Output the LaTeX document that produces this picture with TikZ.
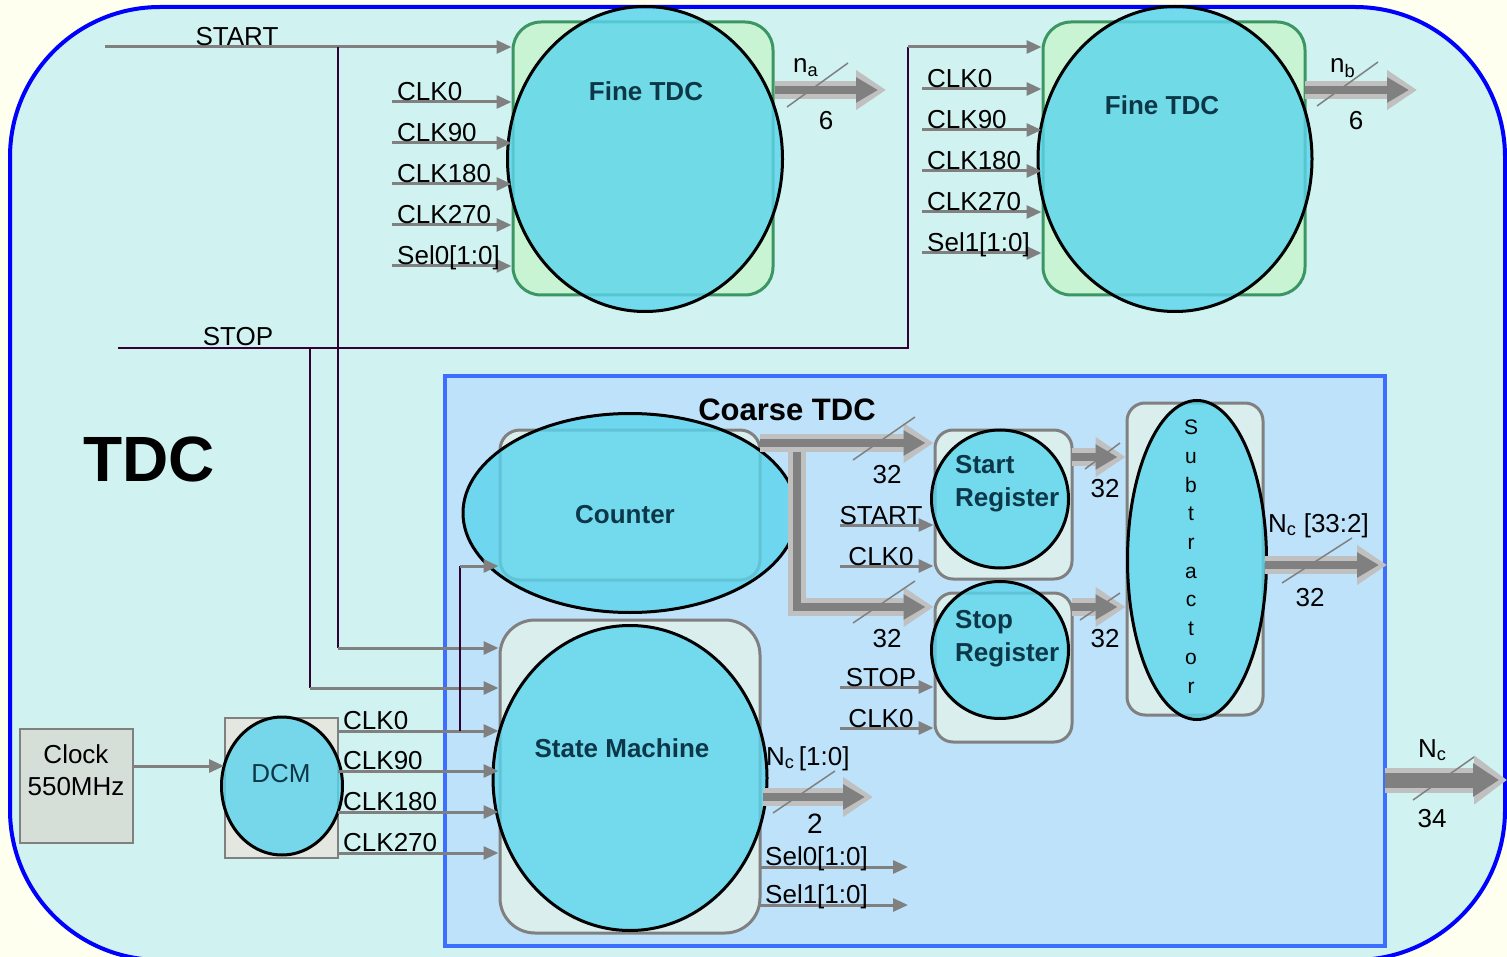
\documentclass[tikz,border=0pt]{standalone}
\usepackage{fontspec}
\setmainfont{Liberation Sans}
\usetikzlibrary{shapes.geometric,arrows.meta,calc}

\definecolor{pagebg}{RGB}{255,255,240}
\definecolor{tdcfill}{RGB}{208,242,240}
\definecolor{tdcline}{RGB}{0,0,255}
\definecolor{coarsefill}{RGB}{190,226,250}
\definecolor{coarseline}{RGB}{60,110,255}
\definecolor{cellfill}{RGB}{90,212,236}
\definecolor{boxfill}{RGB}{218,238,238}
\definecolor{finefill}{RGB}{200,244,212}
\definecolor{fineline}{RGB}{60,150,100}
\definecolor{clkfill}{RGB}{214,222,216}
\definecolor{dcmfill}{RGB}{228,230,224}
\definecolor{tealtxt}{RGB}{12,55,72}
\definecolor{wire}{RGB}{50,0,50}
\definecolor{sig}{RGB}{128,128,128}
\definecolor{busout}{RGB}{192,192,192}

\tikzset{
  lbl/.style={font=\fontsize{26}{32}\selectfont, inner sep=0pt},
  blk/.style={font=\fontsize{26}{33}\selectfont\bfseries, text=tealtxt, inner sep=0pt, align=left},
  cell/.style={ellipse, draw=black, line width=3pt, fill=cellfill, fill opacity=0.8, inner sep=0pt},
  gbox/.style={rectangle, rounded corners=#1, draw=sig, line width=3pt, fill=boxfill, inner sep=0pt},
  gbox/.default=18pt,
  finebox/.style={rectangle, rounded corners=28pt, draw=fineline, line width=3pt, fill=finefill, inner sep=0pt},
  sigarrow/.style={draw=sig, line width=3pt, -{Triangle[length=15pt,width=13pt]}},
  wireline/.style={draw=wire, line width=2.5pt},
  busbg/.style={draw=busout, line width=18pt, -{Triangle[length=30pt,width=38pt]}},
  busfg/.style={draw=sig, line width=8pt, -{Triangle[length=22pt,width=24pt]}, shorten >=8pt},
  busbgw/.style={draw=busout, line width=25pt, -{Triangle[length=33pt,width=47pt]}},
  busfgw/.style={draw=sig, line width=15pt, -{Triangle[length=26pt,width=32pt]}, shorten >=8pt},
  slash/.style={draw=sig, line width=1.5pt},
}

\begin{document}
\begin{tikzpicture}[x=1pt, y=-1pt]
\useasboundingbox (0,0) rectangle (1507,957);
\fill[pagebg] (0,0) rectangle (1507,957);
\begin{scope}
  \clip (0,0) rectangle (1507,957);
  \draw[draw=tdcline, line width=4pt, fill=tdcfill, rounded corners=150pt] (10,7) rectangle (1505,960);
\end{scope}
\node[font=\fontsize{64}{70}\selectfont\bfseries, anchor=base, inner sep=0pt] (tdc) at (149,481) {TDC};

% coarse TDC
\node[rectangle, draw=coarseline, line width=4pt, fill=coarsefill, minimum width=940pt, minimum height=570pt, inner sep=0pt] (coarse) at (915,661) {};
\node[font=\fontsize{31}{36}\selectfont\bfseries, anchor=base, inner sep=0pt] (coarseTxt) at (787,420) {Coarse TDC};

% fine TDCs
\node[finebox, minimum width=260pt, minimum height=273pt] (faBox) at (643,158.5) {};
\node[cell, minimum width=275pt, minimum height=305pt] (faCell) at (645,159) {};
\node[blk, anchor=base] (faTxt) at (646,101) {Fine TDC};
\node[finebox, minimum width=262pt, minimum height=273pt] (fbBox) at (1174,158.5) {};
\node[cell, minimum width=274pt, minimum height=305pt] (fbCell) at (1175,159) {};
\node[blk, anchor=base] (fbTxt) at (1162,115) {Fine TDC};

% clock and DCM
\node[rectangle, draw=sig, line width=2pt, fill=clkfill, minimum width=113pt, minimum height=114pt, inner sep=0pt] (clkBox) at (76.5,786) {};
\node[lbl, align=center] (clkTxt) at (76,770.5) {Clock\\550MHz};
\node[rectangle, draw=sig, line width=2pt, fill=dcmfill, minimum width=113pt, minimum height=140pt, inner sep=0pt] (dcmBox) at (281.5,788) {};
\node[cell, minimum width=121pt, minimum height=138pt] (dcmCell) at (282,786) {};
\node[lbl, text=tealtxt, anchor=base] (dcmTxt) at (281,782) {DCM};

% counter and state machine
\node[gbox=20pt, minimum width=260pt, minimum height=150pt] (ctBox) at (630,505) {};
\node[cell, minimum width=334pt, minimum height=199pt] (ctCell) at (630,513) {};
\node[blk, anchor=base] (ctTxt) at (625,523) {Counter};
\node[gbox=35pt, minimum width=260pt, minimum height=313pt] (smBox) at (630,776.5) {};
\node[cell, minimum width=274pt, minimum height=305pt] (smCell) at (630,778) {};
\node[blk, anchor=base] (smTxt) at (622,757) {State Machine};

% registers and subtractor
\node[gbox, minimum width=137pt, minimum height=149pt] (srBox) at (1003.5,504.5) {};
\node[cell, minimum width=137pt, minimum height=138pt] (srCell) at (1000,499) {};
\node[blk, anchor=north west] (srTxt) at (955,455) {Start\\Register};
\node[gbox, minimum width=137pt, minimum height=149pt] (spBox) at (1003.5,667.5) {};
\node[cell, minimum width=137pt, minimum height=137pt] (spCell) at (1000,650) {};
\node[blk, anchor=north west] (spTxt) at (955,610) {Stop\\Register};
\node[gbox, minimum width=136pt, minimum height=312pt] (suBox) at (1195,559) {};
\node[cell, minimum width=139pt, minimum height=319pt] (suCell) at (1197,560) {};
\foreach \ch [count=\i] in {S,u,b,t,r,a,c,t,o,r}
  \node[font=\fontsize{21}{24}\selectfont, anchor=base, inner sep=0pt] (su\i) at (1191,406+28.7*\i) {\ch};

% START and STOP
\coordinate (startin) at (105,47);
\coordinate (jstart) at (338,47);
\coordinate (jstartD) at (338,648);
\draw[sigarrow] (startin) -- (startin -| faBox.west);
\node[lbl, anchor=base] (startTxt) at (237,46) {START};
\draw[wireline] (jstart) -- (jstartD);
\draw[sigarrow] (jstartD) -- (jstartD -| smBox.west);

\coordinate (stopin) at (118,348);
\coordinate (jstop) at (310,348);
\coordinate (jstopD) at (310,688);
\coordinate (jstopR) at (908,348);
\coordinate (jstopT) at (908,47);
\draw[wireline] (stopin) -- (jstopR) -- (jstopT);
\draw[sigarrow] (jstopT) -- (jstopT -| fbBox.west);
\node[lbl, anchor=base] (stopTxt) at (238,346) {STOP};
\draw[wireline] (jstop) -- (jstopD);
\draw[sigarrow] (jstopD) -- (jstopD -| smBox.west);

% fine TDC inputs
\foreach \s [count=\i] in {CLK0,CLK90,CLK180,CLK270,Sel0[1:0]} {
  \coordinate (fain\i) at (392,61+41*\i);
  \draw[sigarrow] (fain\i) -- (fain\i -| faBox.west);
  \node[lbl, anchor=base west] (faLbl\i) at ($(fain\i)+(5,-1)$) {\s};
}
\foreach \s [count=\i] in {CLK0,CLK90,CLK180,CLK270,Sel1[1:0]} {
  \coordinate (fbin\i) at (922,48+41*\i);
  \draw[sigarrow] (fbin\i) -- (fbin\i -| fbBox.west);
  \node[lbl, anchor=base west] (fbLbl\i) at ($(fbin\i)+(5,-1)$) {\s};
}

% clock tree
\coordinate (clkout) at (133,766);
\draw[sigarrow] (clkout) -- (clkout -| dcmBox.west);
\foreach \s/\y [count=\i] in {CLK0/731,CLK90/771,CLK180/812,CLK270/853} {
  \coordinate (dcm\i) at (338,\y);
  \draw[sigarrow] (dcm\i) -- (dcm\i -| smBox.west);
  \node[lbl, anchor=base west] (dcmLbl\i) at ($(dcm\i)+(5,-2)$) {\s};
}
\coordinate (jclk) at (460,731);
\coordinate (jclkU) at (460,566);
\draw[wireline] (jclk) -- (jclkU);
\draw[sigarrow] (jclkU) -- (jclkU -| ctBox.west);

% register inputs
\foreach \s/\y [count=\i] in {START/525,CLK0/566} {
  \coordinate (srin\i) at (840,\y);
  \draw[sigarrow] (srin\i) -- (srin\i -| srBox.west);
  \node[lbl, anchor=base] (srLbl\i) at (881,\y-1) {\s};
}
\foreach \s/\y [count=\i] in {STOP/687,CLK0/728} {
  \coordinate (spin\i) at (840,\y);
  \draw[sigarrow] (spin\i) -- (spin\i -| spBox.west);
  \node[lbl, anchor=base] (spLbl\i) at (881,\y-1) {\s};
}

% state machine outputs
\coordinate (smout) at (763,797);
\coordinate (smend) at (873,797);
\draw[busbg] (smout) -- (smend);
\draw[busfg] (smout) -- (smend);
\draw[slash] (773,813) -- (835,771);
\node[lbl, anchor=base west] (ncLow) at (766,765) {N\textsubscript{c}\,[1:0]};
\node[font=\fontsize{28}{32}\selectfont, anchor=base, inner sep=0pt] (ncLowW) at (815,833) {2};
\foreach \s/\y [count=\i] in {Sel0[1:0]/867,Sel1[1:0]/905} {
  \coordinate (selout\i) at (760,\y);
  \coordinate (selend\i) at (908,\y);
  \draw[sigarrow] (selout\i) -- (selend\i);
  \node[lbl, anchor=base west] (selLbl\i) at ($(selout\i)+(5,-2)$) {\s};
}

% fine TDC outputs
\coordinate (faout) at (775,90);
\coordinate (faend) at (886,90);
\draw[busbg] (faout) -- (faend);
\draw[busfg] (faout) -- (faend);
\draw[slash] (787,107) -- (848,63);
\node[lbl, anchor=base west] (naTxt) at (793,73) {n\textsubscript{a}};
\node[lbl, anchor=base] (naW) at (826,130) {6};
\coordinate (fbout) at (1305,90);
\coordinate (fbend) at (1417,90);
\draw[busbg] (fbout) -- (fbend);
\draw[busfg] (fbout) -- (fbend);
\draw[slash] (1317,106) -- (1378,62);
\node[lbl, anchor=base west] (nbTxt) at (1330,73) {n\textsubscript{b}};
\node[lbl, anchor=base] (nbW) at (1356,130) {6};

% counter bus
\coordinate (ctout) at (760,443);
\coordinate (busj) at (797,443);
\coordinate (busb) at (797,607);
\draw[busbg] (busj) -- (busb) -- (busb -| spBox.west);
\draw[busfg] (busj) -- (busb) -- (busb -| spBox.west);
\draw[busbg] (ctout) -- (ctout -| srBox.west);
\draw[busfg] (ctout) -- (ctout -| srBox.west);
\draw[slash] (853,460) -- (915,417);
\draw[slash] (853,623) -- (915,581);
\node[lbl, anchor=base] (ctW1) at (887,483) {32};
\node[lbl, anchor=base] (ctW2) at (887,647) {32};

% register outputs
\coordinate (srout) at (1072,457);
\coordinate (spout) at (1072,607);
\draw[busbg] (srout) -- (srout -| suBox.west);
\draw[busfg] (srout) -- (srout -| suBox.west);
\draw[busbg] (spout) -- (spout -| suBox.west);
\draw[busfg] (spout) -- (spout -| suBox.west);
\draw[slash] (1085,469) -- (1120,443);
\draw[slash] (1080,620) -- (1120,593);
\node[lbl, anchor=base] (srW) at (1105,497) {32};
\node[lbl, anchor=base] (spW) at (1105,647) {32};

% subtractor output
\coordinate (suout) at (1265,565);
\draw[busbg] (suout) -- (suout -| coarse.east);
\draw[busfg] (suout) -- (suout -| coarse.east);
\draw[slash] (1282,583) -- (1352,538);
\node[lbl, anchor=base west] (ncHigh) at (1268,532) {N\textsubscript{c} [33:2]};
\node[lbl, anchor=base] (suW) at (1310,606) {32};

% TDC output
\coordinate (coout) at (1385,780);
\coordinate (tdcend) at (1507,780);
\draw[busbgw] (coout) -- (tdcend);
\draw[busfgw] (coout) -- (tdcend);
\draw[slash] (1413,800) -- (1474,757);
\node[lbl, anchor=base west] (ncTxt) at (1418,757) {N\textsubscript{c}};
\node[lbl, anchor=base] (ncW) at (1432,827) {34};
\end{tikzpicture}
\end{document}
